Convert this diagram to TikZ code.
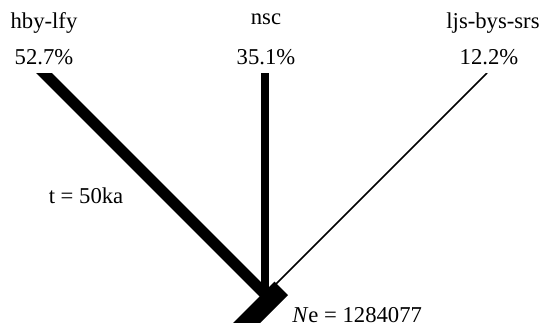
\documentclass[tikz,border=0pt]{standalone}
\usepackage{fontspec}
\setmainfont{Liberation Serif}

\begin{document}
\begin{tikzpicture}[x=0.75pt,y=-0.75pt]
\tikzset{lbl/.style={anchor=base,font=\fontsize{17}{20}\selectfont,inner sep=0pt}}
\useasboundingbox (0,0) rectangle (545,329);
% branch ends
\coordinate (hbyTop) at (34,63);
\coordinate (nscTop) at (265,60);
\coordinate (ljsTop) at (487,73);
\coordinate (hbyEnd) at (270,299);
\coordinate (nscEnd) at (265,296);
\coordinate (ljsEnd) at (276,284);
\coordinate (root) at (281.3,288.3);
\coordinate (rootEnd) at (221.3,348.3);
\begin{scope}
\clip (0,73) rectangle (545,322);
\draw[line width=8.25pt] (hbyTop) -- (hbyEnd);
\draw[line width=6pt] (nscTop) -- (nscEnd);
\draw[line width=1.1pt] (ljsTop) -- (ljsEnd);
\draw[line width=14.25pt] (root) -- (rootEnd);
\end{scope}
% labels
\node[lbl] (hbyName) at (44,28) {hby-lfy};
\node[lbl] (hbyPct) at (44,64) {52.7\%};
\node[lbl] (nscName) at (266,24) {nsc};
\node[lbl] (nscPct) at (266,64) {35.1\%};
\node[lbl] (ljsName) at (493,28) {ljs-bys-srs};
\node[lbl] (ljsPct) at (489,64) {12.2\%};
\node[lbl] (tLbl) at (86,203) {t = 50ka};
\node[lbl,anchor=base west] (neLbl) at (292,322) {\textit{N}e = 1284077};
\end{tikzpicture}
\end{document}
